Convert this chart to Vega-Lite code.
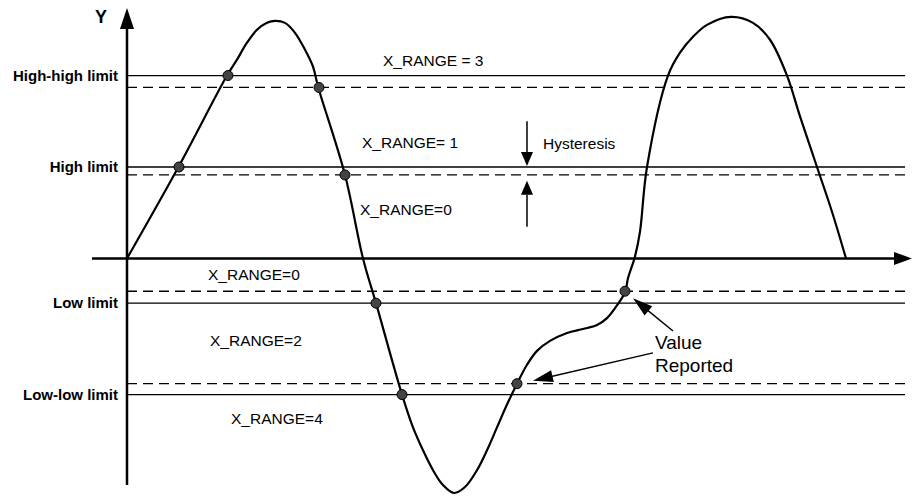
{
  "$schema": "https://vega.github.io/schema/vega-lite/v6.json",
  "width": 912,
  "height": 498,
  "autosize": {"type": "fit", "contains": "padding"},
  "padding": 0,
  "background": "white",
  "config": {"view": {"stroke": null}},
  "datasets": {
    "curve": [
      {"t": 0, "v": 0}, {"t": 52, "v": 93}, {"t": 100, "v": 184}, {"t": 110, "v": 200},
      {"t": 120, "v": 217}, {"t": 130, "v": 230}, {"t": 140, "v": 237}, {"t": 148, "v": 239},
      {"t": 158, "v": 237}, {"t": 168, "v": 227}, {"t": 178, "v": 210}, {"t": 186, "v": 193},
      {"t": 191, "v": 173}, {"t": 218, "v": 84}, {"t": 236, "v": 0}, {"t": 249, "v": -45},
      {"t": 275, "v": -137}, {"t": 286, "v": -170}, {"t": 296, "v": -193}, {"t": 306, "v": -213},
      {"t": 316, "v": -228}, {"t": 327, "v": -236}, {"t": 338, "v": -230}, {"t": 350, "v": -213},
      {"t": 360, "v": -193}, {"t": 370, "v": -170}, {"t": 380, "v": -147}, {"t": 390, "v": -126},
      {"t": 400, "v": -107}, {"t": 410, "v": -93}, {"t": 423, "v": -83}, {"t": 440, "v": -75},
      {"t": 456, "v": -71}, {"t": 470, "v": -67}, {"t": 480, "v": -60}, {"t": 488, "v": -50},
      {"t": 498, "v": -34}, {"t": 501, "v": -20}, {"t": 508, "v": 2}, {"t": 513, "v": 27},
      {"t": 520, "v": 92}, {"t": 541, "v": 184}, {"t": 553, "v": 207}, {"t": 566, "v": 223},
      {"t": 580, "v": 235}, {"t": 604, "v": 243}, {"t": 626, "v": 237}, {"t": 643, "v": 220},
      {"t": 660, "v": 184}, {"t": 673, "v": 143}, {"t": 690, "v": 92}, {"t": 705, "v": 47},
      {"t": 719, "v": 0}
    ],
    "limits": [
      {"label": "High-high limit", "style": "solid", "v": 184},
      {"label": "High-high limit", "style": "dashed", "v": 172},
      {"label": "High limit", "style": "solid", "v": 92},
      {"label": "High limit", "style": "dashed", "v": 84},
      {"label": "Low limit", "style": "dashed", "v": -33},
      {"label": "Low limit", "style": "solid", "v": -45},
      {"label": "Low-low limit", "style": "dashed", "v": -126},
      {"label": "Low-low limit", "style": "solid", "v": -137}
    ],
    "crossings": [
      {"t": 52, "v": 92}, {"t": 101, "v": 184}, {"t": 192, "v": 172}, {"t": 218, "v": 84},
      {"t": 249, "v": -45}, {"t": 275, "v": -137}, {"t": 390, "v": -126}, {"t": 498, "v": -33}
    ],
    "notes": [
      {"text": "X_RANGE = 3", "t": 256, "v": 199},
      {"text": "X_RANGE= 1", "t": 235, "v": 116},
      {"text": "X_RANGE=0", "t": 233, "v": 49},
      {"text": "X_RANGE=0", "t": 81, "v": -17},
      {"text": "X_RANGE=2", "t": 83, "v": -83},
      {"text": "X_RANGE=4", "t": 104, "v": -162},
      {"text": "Hysteresis", "t": 416, "v": 115}
    ],
    "reported": [
      {"text": "Value", "t": 528, "v": -85},
      {"text": "Reported", "t": 528, "v": -108}
    ],
    "pointers": [
      {"t": 546, "v": -73, "t2": 513.7, "v2": -46.4},
      {"t": 526, "v": -95, "t2": 415.7, "v2": -120.7}
    ]
  },
  "layer": [
    {
      "data": {"name": "limits"},
      "mark": {"type": "rule", "color": "black", "strokeWidth": 1.3},
      "encoding": {
        "x": {"datum": 0, "type": "quantitative", "scale": {"domain": [-127, 785], "nice": false, "zero": false}, "axis": null},
        "x2": {"datum": 778},
        "y": {"field": "v", "type": "quantitative", "scale": {"domain": [-238, 260], "nice": false, "zero": false}, "axis": null},
        "strokeDash": {"field": "style", "type": "nominal", "scale": {"domain": ["solid", "dashed"], "range": [[1, 0], [10, 6]]}, "legend": null}
      }
    },
    {
      "data": {"values": [{}]},
      "mark": {"type": "rule", "color": "black", "strokeWidth": 2.5},
      "encoding": {
        "x": {"datum": -35, "type": "quantitative"},
        "x2": {"datum": 767},
        "y": {"datum": 0, "type": "quantitative"}
      }
    },
    {
      "data": {"values": [{}]},
      "mark": {"type": "rule", "color": "black", "strokeWidth": 2.5},
      "encoding": {
        "x": {"datum": 0, "type": "quantitative"},
        "y": {"datum": -228, "type": "quantitative"},
        "y2": {"datum": 231}
      }
    },
    {
      "data": {"values": [{}]},
      "mark": {"type": "point", "shape": "M1,0L-1,-0.72L-1,0.72Z", "size": 324, "filled": true, "color": "black", "opacity": 1},
      "encoding": {
        "x": {"datum": 776, "type": "quantitative"},
        "y": {"datum": 0, "type": "quantitative"}
      }
    },
    {
      "data": {"values": [{}]},
      "mark": {"type": "point", "shape": "M0,-1L0.67,1L-0.67,1Z", "size": 441, "filled": true, "color": "black", "opacity": 1},
      "encoding": {
        "x": {"datum": 0, "type": "quantitative"},
        "y": {"datum": 241.5, "type": "quantitative"}
      }
    },
    {
      "data": {"name": "curve"},
      "mark": {"type": "line", "color": "black", "strokeWidth": 2.2, "interpolate": "catmull-rom"},
      "encoding": {
        "x": {"field": "t", "type": "quantitative"},
        "y": {"field": "v", "type": "quantitative"}
      }
    },
    {
      "data": {"name": "crossings"},
      "mark": {"type": "point", "shape": "circle", "size": 100, "filled": true, "fill": "#444444", "stroke": "black", "strokeWidth": 1, "opacity": 1},
      "encoding": {
        "x": {"field": "t", "type": "quantitative"},
        "y": {"field": "v", "type": "quantitative"}
      }
    },
    {
      "data": {"values": [{}]},
      "mark": {"type": "rule", "color": "black", "strokeWidth": 1.5},
      "encoding": {
        "x": {"datum": 400, "type": "quantitative"},
        "y": {"datum": 138, "type": "quantitative"},
        "y2": {"datum": 105}
      }
    },
    {
      "data": {"values": [{}]},
      "mark": {"type": "rule", "color": "black", "strokeWidth": 1.5},
      "encoding": {
        "x": {"datum": 400, "type": "quantitative"},
        "y": {"datum": 64, "type": "quantitative"},
        "y2": {"datum": 32}
      }
    },
    {
      "data": {"values": [{}]},
      "mark": {"type": "point", "shape": "M0,1L-0.86,-1L0.86,-1Z", "size": 196, "filled": true, "color": "black", "opacity": 1},
      "encoding": {
        "x": {"datum": 400, "type": "quantitative"},
        "y": {"datum": 100, "type": "quantitative"}
      }
    },
    {
      "data": {"values": [{}]},
      "mark": {"type": "point", "shape": "M0,-1L-0.86,1L0.86,1Z", "size": 196, "filled": true, "color": "black", "opacity": 1},
      "encoding": {
        "x": {"datum": 400, "type": "quantitative"},
        "y": {"datum": 71, "type": "quantitative"}
      }
    },
    {
      "data": {"name": "pointers"},
      "mark": {"type": "rule", "color": "black", "strokeWidth": 1.5},
      "encoding": {
        "x": {"field": "t", "type": "quantitative"},
        "y": {"field": "v", "type": "quantitative"},
        "x2": {"field": "t2"},
        "y2": {"field": "v2"}
      }
    },
    {
      "data": {"values": [{}]},
      "mark": {"type": "point", "shape": "M0,-1L-0.6,1L0.6,1Z", "size": 400, "angle": 309.5, "filled": true, "color": "black", "opacity": 1},
      "encoding": {
        "x": {"datum": 513.7, "type": "quantitative"},
        "y": {"datum": -46.4, "type": "quantitative"}
      }
    },
    {
      "data": {"values": [{}]},
      "mark": {"type": "point", "shape": "M0,-1L-0.6,1L0.6,1Z", "size": 400, "angle": 256.9, "filled": true, "color": "black", "opacity": 1},
      "encoding": {
        "x": {"datum": 415.7, "type": "quantitative"},
        "y": {"datum": -120.7, "type": "quantitative"}
      }
    },
    {
      "data": {"name": "limits"},
      "transform": [{"filter": "datum.style === 'solid'"}],
      "mark": {"type": "text", "align": "right", "baseline": "middle", "font": "Liberation Sans", "fontWeight": "bold", "fontSize": 15, "color": "black"},
      "encoding": {
        "x": {"datum": -9, "type": "quantitative"},
        "y": {"field": "v", "type": "quantitative"},
        "text": {"field": "label"}
      }
    },
    {
      "data": {"name": "notes"},
      "mark": {"type": "text", "align": "left", "baseline": "middle", "font": "Liberation Sans", "fontSize": 15.5, "color": "black"},
      "encoding": {
        "x": {"field": "t", "type": "quantitative"},
        "y": {"field": "v", "type": "quantitative"},
        "text": {"field": "text"}
      }
    },
    {
      "data": {"name": "reported"},
      "mark": {"type": "text", "align": "left", "baseline": "middle", "font": "Liberation Sans", "fontSize": 19, "color": "black"},
      "encoding": {
        "x": {"field": "t", "type": "quantitative"},
        "y": {"field": "v", "type": "quantitative"},
        "text": {"field": "text"}
      }
    },
    {
      "data": {"values": [{"text": "Y"}]},
      "mark": {"type": "text", "align": "center", "baseline": "middle", "font": "Liberation Sans", "fontWeight": "bold", "fontSize": 18, "color": "black"},
      "encoding": {
        "x": {"datum": -26, "type": "quantitative"},
        "y": {"datum": 242, "type": "quantitative"},
        "text": {"field": "text"}
      }
    }
  ]
}
